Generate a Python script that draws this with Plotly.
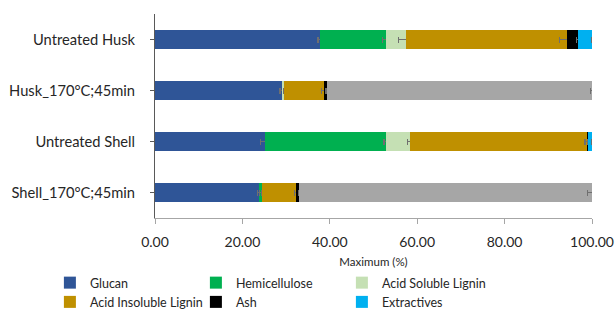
import plotly.graph_objects as go

categories = ["Untreated Husk", "Husk_170°C;45min", "Untreated Shell", "Shell_170°C;45min"]

glucan = [37.7, 29.1, 25.2, 23.9]
glucan_err = [0.4, 0.5, 1.1, 0.5]
hemicellulose = [15.2, 0.0, 27.6, 0.5]
hemicellulose_err = [0.9, 0.0, 0.4, 0.4]
acid_soluble_lignin = [4.5, 0.5, 5.6, 0.0]
acid_soluble_lignin_err = [1.7, 0.2, 0.7, 0.0]
acid_insoluble_lignin = [36.9, 9.0, 40.5, 8.0]
acid_insoluble_lignin_err = [1.8, 0.5, 0.5, 0.5]
ash = [2.5, 0.65, 0.2, 0.45]
ash_err = [0.3, 0.1, 0.1, 0.1]
extractives = [3.2, 0.0, 0.9, 0.0]
extractives_err = [0.1, 0.0, 0.1, 0.0]
other = [0.0, 60.75, 0.0, 67.25]
other_err = [0.0, 0.3, 0.0, 1.1]

series = [
    ("Glucan", glucan, glucan_err, "#2F5597", True),
    ("Hemicellulose", hemicellulose, hemicellulose_err, "#00B050", True),
    ("Acid Soluble Lignin", acid_soluble_lignin, acid_soluble_lignin_err, "#C5E0B4", True),
    ("Acid Insoluble Lignin", acid_insoluble_lignin, acid_insoluble_lignin_err, "#BF9000", True),
    ("Ash", ash, ash_err, "#000000", True),
    ("Extractives", extractives, extractives_err, "#00B0F0", True),
    ("Other", other, other_err, "#A6A6A6", False),
]

fig = go.Figure()
for name, vals, errs, color, show in series:
    fig.add_trace(go.Bar(
        y=categories, x=vals, name=name, orientation="h",
        marker=dict(color=color, line=dict(width=0)),
        error_x=dict(type="data", array=errs, visible=True, color="#6F6F6F", thickness=1.2, width=3),
        showlegend=show,
    ))

ff = "Lato, Carlito, Liberation Sans, sans-serif"

fig.update_layout(
    width=616, height=312,
    barmode="stack", bargap=0.61,
    margin=dict(l=155, r=24, t=14, b=94, autoexpand=False),
    plot_bgcolor="white", paper_bgcolor="white",
    font=dict(family=ff, size=13, color="#262626"),
    xaxis=dict(range=[0, 100], dtick=20, tickformat=".2f", showgrid=False, zeroline=False,
               showline=True, linecolor="#A6A6A6", ticks="outside", ticklen=5, tickcolor="#A6A6A6",
               tickfont=dict(size=14), automargin=False, ticklabelstandoff=6,
               title=dict(text="Maximum (%)", font=dict(size=11.5), standoff=10)),
    yaxis=dict(categoryorder="array", categoryarray=categories, autorange="reversed",
               showgrid=False, zeroline=False, showline=True, linecolor="#595959",
               ticks="outside", ticklen=4, tickcolor="#595959", ticklabelstandoff=12,
               tickfont=dict(size=14.7), automargin=False),
    legend=dict(orientation="h", xref="container", yref="container",
                x=0.081, xanchor="left", y=0.141, yanchor="top",
                entrywidth=101, entrywidthmode="pixels", traceorder="normal",
                font=dict(size=12.5), itemwidth=30, tracegroupgap=0),
)

fig.write_html("out.html", post_script="document.body.style.margin='0';",
               config={"displayModeBar": False})
